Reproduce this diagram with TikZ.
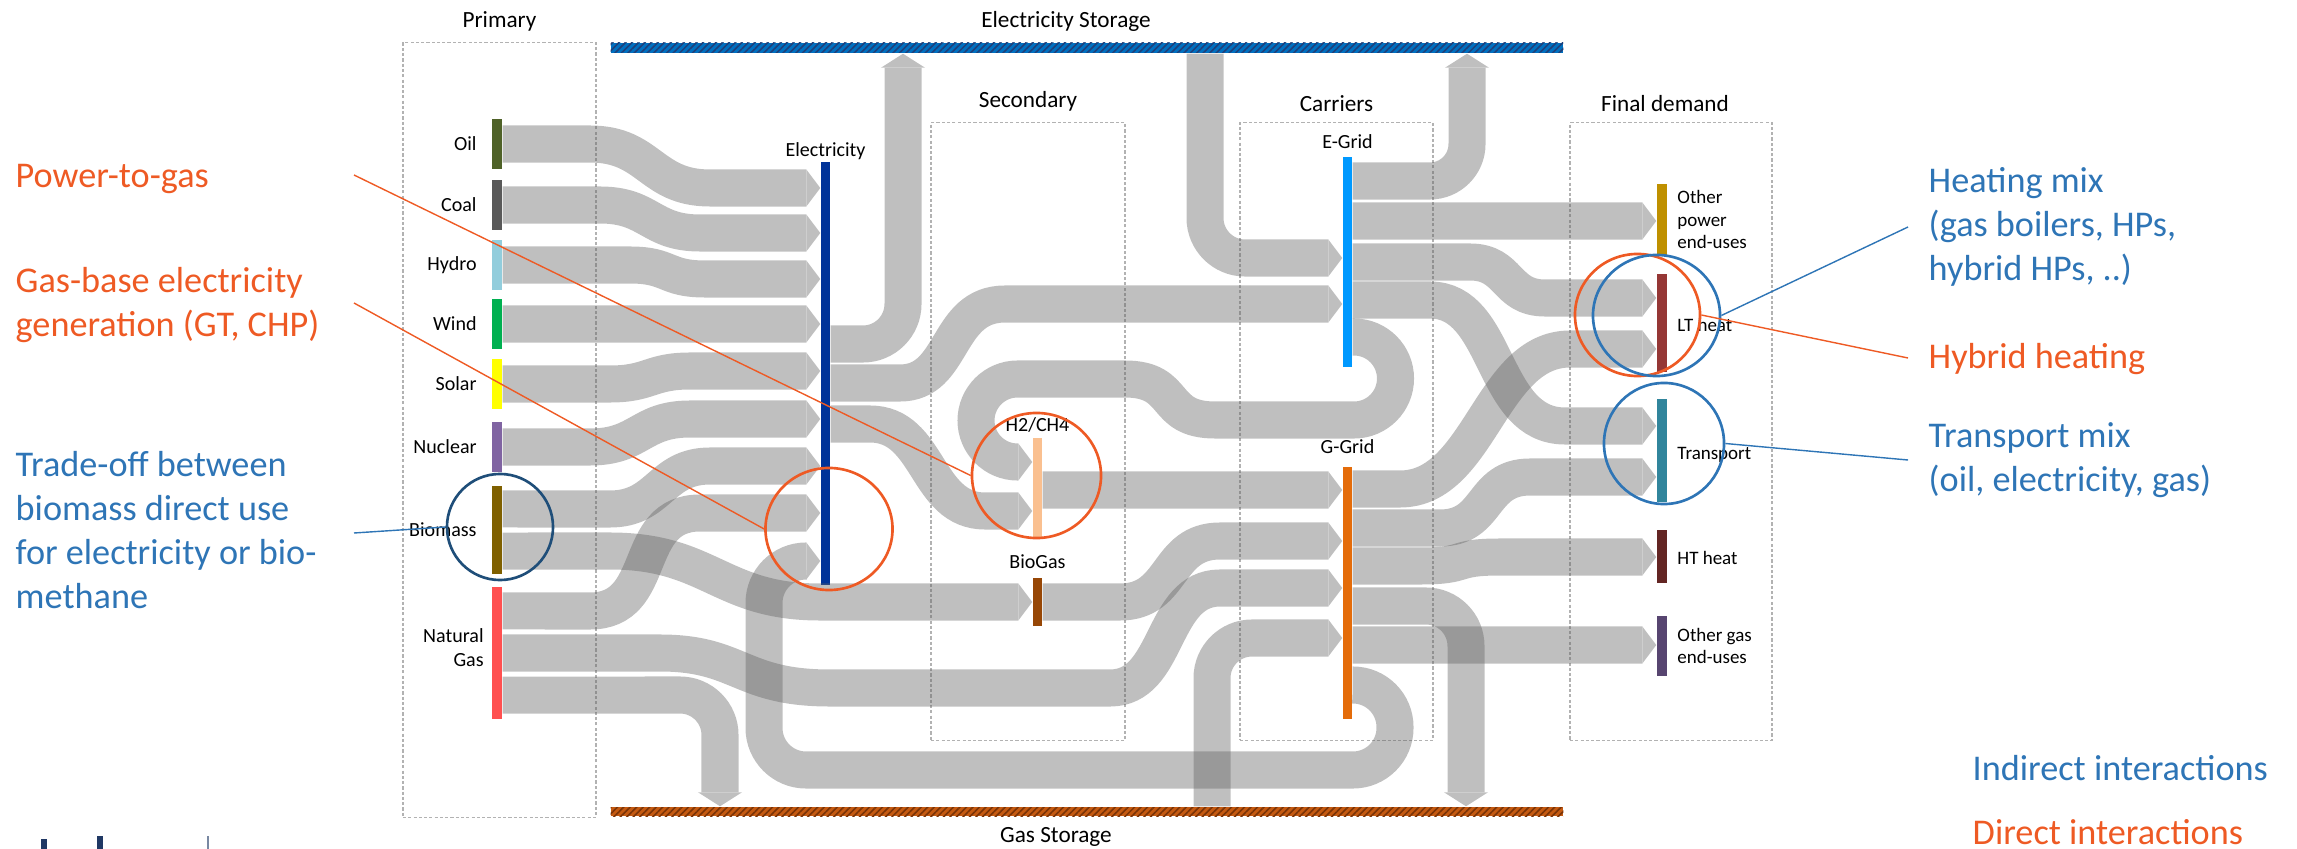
\documentclass[tikz,border=0pt]{standalone}
\usepackage{fontspec}
\setmainfont{Carlito}
\usepackage{tikz}
\usetikzlibrary{positioning,arrows.meta,patterns.meta,shapes.geometric}
\usepackage{xcolor}

\definecolor{flowgray}{RGB}{100,100,100}
\definecolor{annorange}{HTML}{EE5A24}
\definecolor{annblue}{HTML}{2E75B6}
\definecolor{ringnavy}{HTML}{1F4E79}
\definecolor{stblue}{HTML}{0070C0}
\definecolor{stbluedark}{HTML}{1F3F7A}
\definecolor{stbrown}{HTML}{C55A11}
\definecolor{stbrowndark}{HTML}{7A3306}
\definecolor{coil}{HTML}{4F6228}
\definecolor{ccoal}{HTML}{595959}
\definecolor{chydro}{HTML}{92CDDC}
\definecolor{cwind}{HTML}{00B050}
\definecolor{csolar}{HTML}{FFFF00}
\definecolor{cnuc}{HTML}{8064A2}
\definecolor{cbio}{HTML}{7F6000}
\definecolor{cgas}{HTML}{FF5050}
\definecolor{celec}{HTML}{003399}
\definecolor{ch2}{HTML}{FAC090}
\definecolor{cbiogas}{HTML}{974706}
\definecolor{cegrid}{HTML}{0099FF}
\definecolor{cggrid}{HTML}{E46C0A}
\definecolor{cothpow}{HTML}{BF9000}
\definecolor{clt}{HTML}{953735}
\definecolor{ctr}{HTML}{31859C}
\definecolor{cht}{HTML}{632523}
\definecolor{cothgas}{HTML}{574570}
\definecolor{logonavy}{HTML}{203864}

% one grey band, see-through where bands cross
\newcommand{\flowband}[2][]{\begin{scope}[transparency group, opacity=0.41]\draw[flow,#1] #2;\end{scope}}
\newcommand{\annstack}[1]{\begin{tabular}[t]{@{}l@{}}#1\end{tabular}}

\begin{document}
\begin{tikzpicture}[x=0.01cm, y=-0.01cm,
  bar/.style={rectangle, inner sep=0pt, minimum width=0.1cm},
  grp/.style={draw=gray!60, line width=0.35pt, dash pattern=on 0.9pt off 0.6pt, inner sep=0pt},
  ttl/.style={font=\fontsize{6.6}{7.9}\selectfont, inner sep=0pt},
  lab/.style={font=\fontsize{5.7}{6.8}\selectfont, inner sep=0pt},
  fdlab/.style={font=\fontsize{5.4}{6.3}\selectfont, inner sep=0pt, align=left},
  flow/.style={line width=0.37cm, draw=flowgray, -{Triangle[length=0.14cm, width=0.37cm, line width=0pt]}},
  store/.style={-{Triangle[length=0.14cm, width=0.44cm, line width=0pt]}},
  ring/.style={ellipse, draw, line width=0.75pt, inner sep=0pt},
  pin/.style={line width=0.4pt},
  ann/.style={font=\fontsize{10.3}{12.5}\selectfont, inner sep=0pt, anchor=base west}]
\useasboundingbox (0,0) rectangle (2297,849);

% group frames
\node[grp, minimum width=1.93cm, minimum height=7.74cm] (prim) at (499.5,430) {};
\node[grp, minimum width=1.94cm, minimum height=6.17cm] (sec) at (1028,431.5) {};
\node[grp, minimum width=1.93cm, minimum height=6.17cm] (carr) at (1336.5,431.5) {};
\node[grp, minimum width=2.02cm, minimum height=6.17cm] (fin) at (1671,431.5) {};
\node[ttl, above=0.1cm of prim] (prim-t) {Primary};
\node[ttl, above=0.1cm of sec] (sec-t) {Secondary};
\node[ttl, above=0.1cm of carr] (carr-t) {Carriers};
\node[ttl, above=0.1cm of fin, xshift=-0.06cm] (fin-t) {Final demand};

% storages
\node[bar, minimum width=9.52cm, minimum height=0.1cm, fill=stblue,
  postaction={pattern={Lines[angle=45, distance=1.3pt, line width=0.45pt]}, pattern color=stbluedark}] (estor) at (1087,48) {};
\node[bar, minimum width=9.52cm, minimum height=0.09cm, fill=stbrown,
  postaction={pattern={Lines[angle=45, distance=1.3pt, line width=0.45pt]}, pattern color=stbrowndark}] (gstor) at (1087,811.5) {};
\node[ttl, above=0.1cm of estor, xshift=-0.21cm] (estor-t) {Electricity Storage};
\node[ttl, below=0.1cm of gstor, xshift=-0.31cm] (gstor-t) {Gas Storage};

% primary
\node[bar, fill=coil, minimum height=0.50cm] (oil) at (497,144) {};
\node[bar, fill=ccoal, minimum height=0.49cm] (coal) at (497,205) {};
\node[bar, fill=chydro, minimum height=0.49cm] (hydro) at (497,265) {};
\node[bar, fill=cwind, minimum height=0.50cm] (wind) at (497,324) {};
\node[bar, fill=csolar, minimum height=0.49cm] (solar) at (497,384) {};
\node[bar, fill=cnuc, minimum height=0.50cm] (nuclear) at (497,447) {};
\node[bar, fill=cbio, minimum height=0.88cm] (biomass) at (497,530) {};
\node[bar, fill=cgas, minimum height=1.32cm] (natgas) at (497,653) {};
\node[lab, left=0.14cm of oil] (oil-l) {Oil};
\node[lab, left=0.14cm of coal] (coal-l) {Coal};
\node[lab, left=0.14cm of hydro] (hydro-l) {Hydro};
\node[lab, left=0.14cm of wind] (wind-l) {Wind};
\node[lab, left=0.14cm of solar] (solar-l) {Solar};
\node[lab, left=0.14cm of nuclear] (nuclear-l) {Nuclear};
\node[lab, left=0.14cm of biomass] (biomass-l) {Biomass};
\node[lab, left=0.07cm of natgas, yshift=0.05cm, align=right] (natgas-l) {Natural\\Gas};

% secondary
\node[bar, fill=celec, minimum width=0.09cm, minimum height=4.23cm] (elec) at (825.5,373.5) {};
\node[bar, fill=ch2, minimum width=0.09cm, minimum height=1.01cm] (h2) at (1037.5,488.5) {};
\node[bar, fill=cbiogas, minimum width=0.09cm, minimum height=0.48cm] (biogas) at (1037.5,602) {};
\node[lab, above=0.01cm of elec] (elec-l) {Electricity};
\node[lab, above=0.04cm of h2] (h2-l) {H2/CH4};
\node[lab, above=0.08cm of biogas] (biogas-l) {BioGas};

% carriers
\node[bar, fill=cegrid, minimum width=0.09cm, minimum height=2.10cm] (egrid) at (1347.5,262) {};
\node[bar, fill=cggrid, minimum width=0.09cm, minimum height=2.52cm] (ggrid) at (1347.5,593) {};
\node[lab, above=0.07cm of egrid] (egrid-l) {E-Grid};
\node[lab, above=0.12cm of ggrid] (ggrid-l) {G-Grid};

% final demand
\node[bar, fill=cothpow, minimum height=0.70cm] (othpow) at (1662,219.5) {};
\node[bar, fill=clt, minimum height=0.98cm] (ltheat) at (1662,323) {};
\node[bar, fill=ctr, minimum height=1.03cm] (transp) at (1662,450.5) {};
\node[bar, fill=cht, minimum height=0.53cm] (htheat) at (1662,556.5) {};
\node[bar, fill=cothgas, minimum height=0.60cm] (othgas) at (1662,646) {};
\node[fdlab, right=0.09cm of othpow] (othpow-l) {Other\\power\\end-uses};
\node[fdlab, right=0.09cm of ltheat, yshift=-0.02cm] (ltheat-l) {LT heat};
\node[fdlab, right=0.09cm of transp, yshift=-0.04cm] (transp-l) {Transport};
\node[fdlab, right=0.09cm of htheat, yshift=-0.01cm] (htheat-l) {HT heat};
\node[fdlab, right=0.09cm of othgas] (othgas-l) {Other gas\\end-uses};

% primary -> electricity
\flowband{(oil.east) -- (590,144) .. controls (650,144) and (650,188) .. (710,188) -- (elec.west |- 0,188)}
\flowband{(coal.east) -- (600,205) .. controls (650,205) and (650,233) .. (700,233) -- (elec.west |- 0,233)}
\flowband{(hydro.east) -- (630,265) .. controls (670,265) and (665,279) .. (705,279) -- (elec.west |- 0,279)}
\flowband{(wind.east) -- (elec.west |- wind.east)}
\flowband{(solar.east) -- (610,384) .. controls (650,384) and (650,371) .. (690,371) -- (elec.west |- 0,371)}
\flowband{(nuclear.east) -- (590,447) .. controls (640,447) and (640,419) .. (690,419) -- (elec.west |- 0,419)}
\flowband{([yshift=0.21cm]biomass.east) -- (610,509) .. controls (660,509) and (660,466) .. (710,466) -- (elec.west |- 0,466)}
\flowband{([yshift=0.42cm]natgas.east) -- (590,611) .. controls (660,611) and (630,513) .. (700,513) -- (elec.west |- 0,513)}

% primary -> gas side
\flowband{([yshift=-0.21cm]biomass.east) -- (610,551) .. controls (710,551) and (720,602) .. (820,602) -- (biogas.west |- 0,602)}
\flowband{(natgas.east) -- (660,653) .. controls (740,653) and (740,688) .. (830,688) -- (1110,688) .. controls (1170,688) and (1160,588) .. (1220,588) -- (ggrid.west |- 0,588)}
\flowband[store, rounded corners=0.4cm]{([yshift=-0.42cm]natgas.east) -- (720,695) -- (gstor.north -| 720,0)}

% electricity out
\flowband[store, rounded corners=0.4cm]{(elec.east |- 0,344) -- (903,344) -- (estor.south -| 903,0)}
\flowband{(elec.east |- 0,383) -- (900,383) .. controls (955,383) and (945,304) .. (1005,304) -- (egrid.west |- 0,304)}
\flowband{(elec.east |- 0,424) -- (870,424) .. controls (930,424) and (925,511) .. (985,511) -- (h2.west |- 0,511)}
\flowband[rounded corners=0.4cm]{(estor.south -| 1205,0) -- (1205,258) -- (egrid.west |- 0,258)}

% e-grid out
\flowband[store, rounded corners=0.37cm]{(egrid.east |- 0,181) -- (1467,181) -- (estor.south -| 1467,0)}
\flowband{(egrid.east |- 0,221) -- (othpow.west |- 0,221)}
\flowband{(egrid.east |- 0,262) -- (1470,262) .. controls (1510,262) and (1505,298) .. (1545,298) -- (ltheat.west |- 0,298)}
\flowband{(egrid.east |- 0,300) -- (1430,300) .. controls (1500,300) and (1490,426) .. (1565,426) -- (transp.west |- 0,426)}
% power-to-gas loop
\flowband{(egrid.east |- 0,337) -- (1354,337) .. controls (1377,337) and (1395.5,355.6) .. (1395.5,378.5)
  .. controls (1395.5,401.4) and (1377,420) .. (1354,420) -- (1215,420) .. controls (1160,420) and (1180,379) .. (1125,379)
  -- (1017.5,379) .. controls (994.6,379) and (976,397.6) .. (976,420.5) .. controls (976,443.4) and (994.6,462) .. (1017.5,462)
  -- (h2.west |- 0,462)}

% into g-grid
\flowband{(h2.east |- 0,490) -- (ggrid.west |- 0,490)}
\flowband{(biogas.east) -- (1120,602) .. controls (1175,602) and (1165,541) .. (1220,541) -- (ggrid.west |- 0,541)}
\flowband[rounded corners=0.4cm]{(gstor.north -| 1212,0) -- (1212,638) -- (ggrid.west |- 0,638)}

% g-grid out
\flowband{(ggrid.east |- 0,489) -- (1400,489) .. controls (1480,489) and (1490,349) .. (1570,349) -- (ltheat.west |- 0,349)}
\flowband{(ggrid.east |- 0,528) -- (1440,528) .. controls (1490,528) and (1480,477) .. (1530,477) -- (transp.west |- 0,477)}
\flowband{(ggrid.east |- 0,566) -- (1420,566) .. controls (1470,566) and (1450,557) .. (1500,557) -- (htheat.west |- 0,557)}
\flowband[store, rounded corners=0.4cm]{(ggrid.east |- 0,606) -- (1466,606) -- (gstor.north -| 1466,0)}
\flowband{(ggrid.east |- 0,645) -- (othgas.west |- 0,645)}
\flowband[rounded corners=0.42cm]{(ggrid.east |- 0,685) -- (1395,685) -- (1395,770) -- (764,770) -- (764,561) -- (elec.west |- 0,561)}

% interaction rings
\node[ring, draw=ringnavy, minimum width=1.06cm, minimum height=1.06cm] (bioring) at (500,527) {};
\node[ring, draw=annorange, minimum width=1.27cm, minimum height=1.22cm] (elring) at (829,529) {};
\node[ring, draw=annorange, minimum width=1.29cm, minimum height=1.25cm] (h2ring) at (1036.5,475.5) {};
\node[ring, draw=annorange, minimum width=1.25cm, minimum height=1.22cm] (ltoring) at (1637.5,315) {};
\node[ring, draw=annblue, minimum width=1.27cm, minimum height=1.21cm] (ltbring) at (1656.5,315.5) {};
\node[ring, draw=annblue, minimum width=1.20cm, minimum height=1.21cm] (trring) at (1664,443.5) {};

% annotations
\node[ann, text=annorange] (ptg) at (15,188) {Power-to-gas};
\node[ann, text=annorange] (gasel) at (15,293) {\annstack{Gas-base electricity\\generation (GT, CHP)}};
\node[ann, text=annblue] (trade) at (15,477) {\annstack{Trade-off between\\biomass direct use\\for electricity or bio-\\methane}};
\node[ann, text=annblue] (heatmix) at (1928,193) {\annstack{Heating mix\\(gas boilers, HPs,\\hybrid HPs, ..)}};
\node[ann, text=annorange] (hybrid) at (1928,369) {Hybrid heating};
\node[ann, text=annblue] (trmix) at (1928,448) {\annstack{Transport mix\\(oil, electricity, gas)}};
\node[ann, text=annblue] (indir) at (1972,780) {Indirect interactions};
\node[ann, text=annorange] (dir) at (1972,844) {Direct interactions};

\coordinate (ptg-pin) at (354,175);
\coordinate (gasel-pin) at (354,303);
\coordinate (trade-pin) at (354,533);
\coordinate (heat-pin) at (1908,227);
\coordinate (hybrid-pin) at (1908,358);
\coordinate (trmix-pin) at (1908,460);
\draw[pin, annorange] (ptg-pin) -- (h2ring.west);
\draw[pin, annorange] (gasel-pin) -- (elring.west);
\draw[pin, annblue] (trade-pin) -- (bioring.west);
\draw[pin, annblue] (ltbring.east) -- (heat-pin);
\draw[pin, annorange] (ltoring.east) -- (hybrid-pin);
\draw[pin, annblue] (trring.east) -- (trmix-pin);

% logo remnants at the lower edge
\fill[logonavy] (41,839) rectangle (47,849);
\fill[logonavy] (97,836) rectangle (103,849);
\fill[logonavy!60] (207,836) rectangle (209,849);
\end{tikzpicture}
\end{document}
